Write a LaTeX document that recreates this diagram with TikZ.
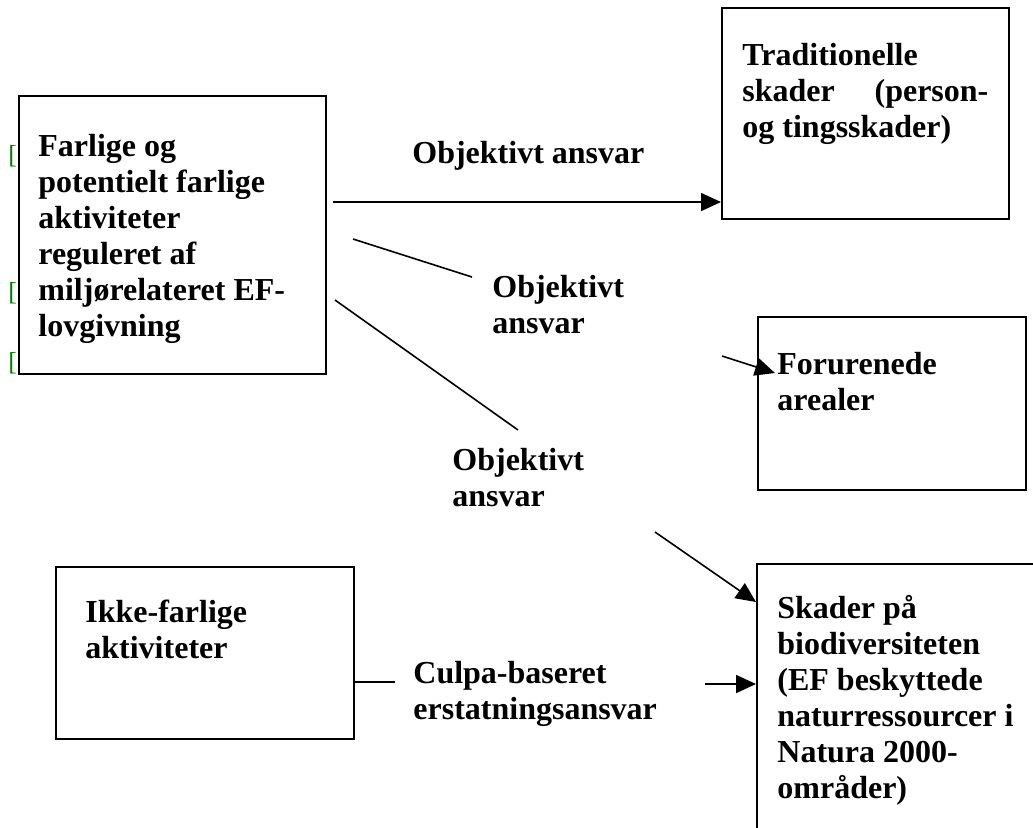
\documentclass[tikz,border=0pt]{standalone}
\usepackage{fontspec}
\setmainfont{Liberation Serif}
\usetikzlibrary{arrows.meta}

\begin{document}
\begin{tikzpicture}[x=0.5pt, y=-0.5pt,
    box/.style={draw, line width=1pt, inner sep=0pt, anchor=north west},
    txt/.style={font=\bfseries\fontsize{16}{18}\selectfont, align=left,
                inner sep=0pt, anchor=base west},
    arr/.style={line width=0.8pt, -{Triangle[length=10pt, width=9pt]}},
    seg/.style={line width=0.8pt}]
    \path[use as bounding box, clip] (0,0) rectangle (1033,827);

    % green marks behind the left box
    \foreach \y/\n in {163/a, 300/b, 370/c}
        \node[text=green!50!black, font=\fontsize{13}{15}\selectfont,
              inner sep=0pt, anchor=base west] (brk\n) at (8,\y) {[};

    \node[box, fill=white, minimum width=153.5pt, minimum height=139pt] (farlig) at (18,95) {};
    \node[box, minimum width=143.5pt, minimum height=105.5pt] (trad) at (721,7) {};
    \node[box, minimum width=134pt, minimum height=86.5pt] (forur) at (757,316) {};
    \node[box, minimum width=150pt, minimum height=150pt] (skader) at (756,563) {};
    \node[box, minimum width=149pt, minimum height=86pt] (ikke) at (55,566) {};

    % base of a text = its last line
    \node[txt] (farligtxt) at (38,336) {Farlige og\\potentielt farlige\\aktiviteter\\reguleret af\\miljørelateret EF-\\lovgivning};
    \node[txt] (tradtxt) at (742,137) {Traditionelle\\\makebox[123pt][l]{skader\hfill(person-}\\og tingsskader)};
    \node[txt] (forurtxt) at (777,410) {Forurenede\\arealer};
    \node[txt] (skadertxt) at (777,798) {Skader på\\biodiversiteten\\(EF beskyttede\\naturressourcer i\\Natura 2000-\\områder)};
    \node[txt] (ikketxt) at (85,658) {Ikke-farlige\\aktiviteter};

    \node[txt] (lab1) at (412,163) {Objektivt ansvar};
    \node[txt] (lab2) at (492,333) {Objektivt\\ansvar};
    \node[txt] (lab3) at (452,506) {Objektivt\\ansvar};
    \node[txt] (lab4) at (413,719) {Culpa-baseret\\erstatningsansvar};

    \coordinate (t1) at (333,202);
    \coordinate (m1) at (353,239);
    \coordinate (m2) at (472,277);
    \coordinate (f1) at (722,356);
    \coordinate (f2) at (775,373);
    \coordinate (d1) at (335,300);
    \coordinate (d2) at (518,430);
    \coordinate (s1) at (655,532);
    \coordinate (s2) at (756,602);
    \coordinate (c1) at (395,682);
    \coordinate (c2) at (705,684);

    \draw[arr] (t1) -- (t1 -| trad.west);
    \draw[seg] (m1) -- (m2);
    \draw[arr] (f1) -- (f2);
    \draw[seg] (d1) -- (d2);
    \draw[arr] (s1) -- (s2);
    \draw[seg] (c1 -| ikke.east) -- (c1);
    \draw[arr] (c2) -- (c2 -| skader.west);
\end{tikzpicture}
\end{document}
